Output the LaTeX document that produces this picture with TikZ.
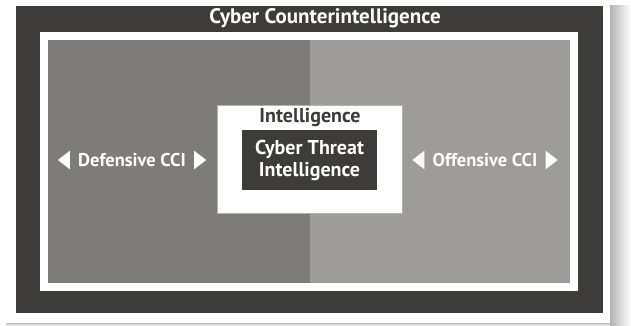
\documentclass[tikz,border=0pt]{standalone}
\usepackage{fontspec}
\setmainfont{PT Sans}
\usepackage{tikz}
\usetikzlibrary{shapes.geometric, positioning, fit}
\definecolor{frameDark}{HTML}{3D3C3A}
\definecolor{defGray}{HTML}{7D7C78}
\definecolor{offGray}{HTML}{9E9C98}
\tikzstyle{panel} = [rectangle, inner sep=0pt, draw=none]
\tikzstyle{caption} = [text=white, font=\bfseries\fontsize{18.5}{20}\selectfont, inner sep=0pt]
\tikzstyle{marker} = [isosceles triangle, isosceles triangle apex angle=75, fill=white, inner sep=0pt, minimum height=12pt, minimum width=15pt]

\begin{document}
\begin{tikzpicture}[x=1pt, y=-1pt, node distance=8pt]
    \useasboundingbox (0,0) rectangle (631,326);
    % card and its shadow
    \shade [left color=gray!60, right color=white] (610,6) rectangle (631,326);
    \shade [top color=gray!50, bottom color=white] (6,323) rectangle (610,326);
    \fill [white] (0,0) rectangle (610,323);

    \node (outer) [panel, fill=frameDark, minimum width=587pt, minimum height=307pt] at (309.5,159.5) {};
    \node (frame) [panel, fill=white, minimum width=538pt, minimum height=259pt] at (309,161.5) {};
    \node (defensive) [panel, fill=defGray, minimum width=262pt, minimum height=243pt, anchor=north west] at (48,40) {};
    \node (offensive) [panel, fill=offGray, minimum width=260pt, minimum height=243pt, anchor=north west] at (310,40) {};
    \node (title) [caption, font=\bfseries\fontsize{21}{22}\selectfont] at (325,18.5) {Cyber Counterintelligence};

    % intelligence boxes
    \node (intel) [panel, fill=white, draw=gray!60, minimum width=185pt, minimum height=108pt] at (309.5,159) {};
    \node (intelText) [caption, text=frameDark, font=\bfseries\fontsize{20}{22}\selectfont] at (310,118) {Intelligence};
    \node (cti) [panel, fill=frameDark, minimum width=135pt, minimum height=60pt, align=center, text=white,
        font=\bfseries\fontsize{20}{22}\selectfont] at (309.5,160) {Cyber Threat\\Intelligence};

    % side labels
    \node (defText) [caption] at (132,160) {Defensive CCI};
    \node (defLeft) [marker, shape border rotate=180, left=of defText] {};
    \node (defRight) [marker, right=of defText] {};
    \node (offText) [caption] at (485,160) {Offensive CCI};
    \node (offLeft) [marker, shape border rotate=180, left=of offText] {};
    \node (offRight) [marker, right=of offText] {};
\end{tikzpicture}
\end{document}
